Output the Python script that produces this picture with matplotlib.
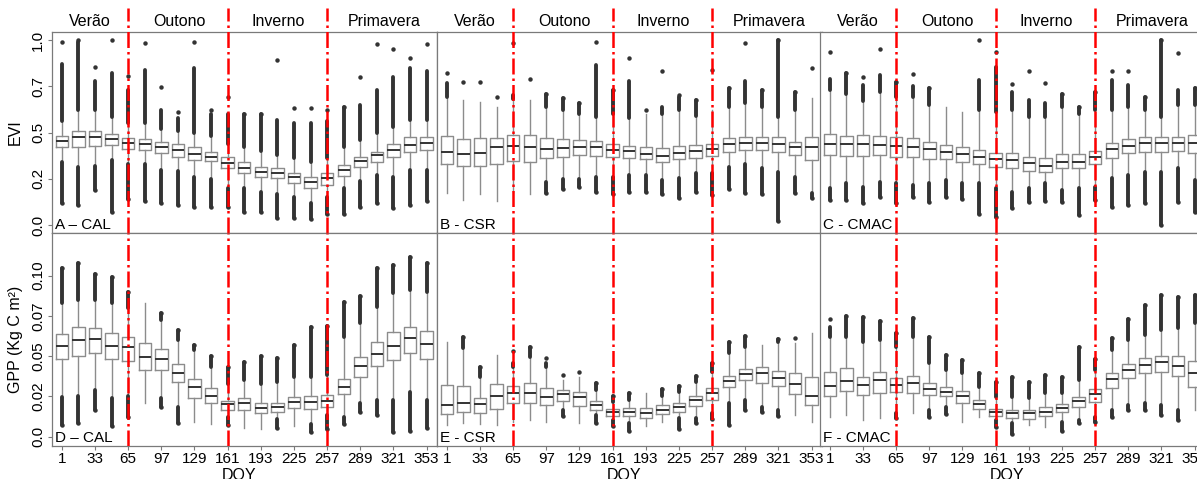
"""
EVI / GPP boxplots by DOY for three sites (CAL, CSR, CMAC)
"""
import matplotlib
matplotlib.use("Agg")
import matplotlib.pyplot as plt
from matplotlib.transforms import blended_transform_factory

plt.rcParams["font.family"] = ["Liberation Sans", "DejaVu Sans"]

# ---- data ----
doy = [1, 17, 33, 49, 65, 81, 97, 113, 129, 145, 161, 177, 193, 209, 225, 241, 257, 273, 289, 305, 321, 337, 353]
doy_labels = [1, 33, 65, 97, 129, 161, 193, 225, 257, 289, 321, 353]
season_names = ["Verão", "Outono", "Inverno", "Primavera"]
season_centers = [28, 114, 210, 312]
season_breaks = [65, 161, 257]

# A - CAL (EVI)
A_q1 = [0.423, 0.423, 0.429, 0.432, 0.411, 0.405, 0.387, 0.369, 0.351, 0.348, 0.306, 0.279, 0.261, 0.252, 0.229, 0.198, 0.216, 0.265, 0.312, 0.342, 0.369, 0.396, 0.405]
A_med = [0.456, 0.477, 0.477, 0.463, 0.441, 0.438, 0.423, 0.405, 0.384, 0.369, 0.337, 0.310, 0.288, 0.279, 0.258, 0.234, 0.252, 0.297, 0.348, 0.378, 0.405, 0.432, 0.441]
A_q3 = [0.481, 0.508, 0.508, 0.490, 0.472, 0.463, 0.450, 0.438, 0.423, 0.396, 0.369, 0.339, 0.315, 0.306, 0.279, 0.261, 0.279, 0.324, 0.369, 0.396, 0.438, 0.474, 0.474]
A_wlo = [0.34, 0.315, 0.32, 0.35, 0.33, 0.33, 0.30, 0.29, 0.26, 0.25, 0.20, 0.20, 0.18, 0.17, 0.15, 0.12, 0.15, 0.20, 0.24, 0.27, 0.26, 0.30, 0.30]
A_whi = [0.56, 0.62, 0.62, 0.585, 0.55, 0.55, 0.52, 0.51, 0.50, 0.48, 0.44, 0.42, 0.40, 0.38, 0.36, 0.34, 0.36, 0.42, 0.46, 0.50, 0.53, 0.57, 0.57]
A_lo = [0.12, 0.11, 0.19, 0.07, 0.14, 0.13, 0.12, 0.11, 0.10, 0.10, 0.10, 0.07, 0.07, 0.04, 0.04, 0.03, 0.06, 0.06, 0.10, 0.12, 0.09, 0.11, 0.13]
A_hi = [0.87, 0.99, 0.78, 0.82, 0.73, 0.84, 0.62, 0.58, 0.85, 0.60, 0.60, 0.60, 0.60, 0.57, 0.55, 0.55, 0.56, 0.64, 0.65, 0.73, 0.80, 0.85, 0.83]
A_max = [0.99, 1.0, 0.855, 1.0, 0.805, 0.985, 0.745, 0.61, 0.99, 0.62, 0.69, 0.60, 0.60, 0.89, 0.63, 0.63, 0.62, 0.64, 0.80, 0.98, 0.95, 0.90, 0.98]

# B - CSR (EVI)
B_q1 = [0.328, 0.319, 0.319, 0.330, 0.348, 0.342, 0.360, 0.366, 0.378, 0.373, 0.366, 0.360, 0.357, 0.342, 0.357, 0.360, 0.375, 0.396, 0.405, 0.405, 0.393, 0.378, 0.351]
B_med = [0.396, 0.384, 0.387, 0.420, 0.429, 0.420, 0.409, 0.418, 0.423, 0.423, 0.405, 0.400, 0.384, 0.375, 0.391, 0.400, 0.409, 0.436, 0.445, 0.441, 0.438, 0.423, 0.420]
B_q3 = [0.481, 0.463, 0.468, 0.472, 0.486, 0.486, 0.472, 0.463, 0.459, 0.454, 0.438, 0.429, 0.420, 0.414, 0.429, 0.432, 0.438, 0.468, 0.477, 0.474, 0.477, 0.450, 0.477]
B_wlo = [0.175, 0.135, 0.166, 0.13, 0.18, 0.168, 0.234, 0.25, 0.25, 0.26, 0.26, 0.27, 0.27, 0.243, 0.255, 0.28, 0.28, 0.315, 0.33, 0.31, 0.288, 0.26, 0.175]
B_whi = [0.69, 0.675, 0.667, 0.64, 0.68, 0.675, 0.64, 0.62, 0.60, 0.585, 0.60, 0.577, 0.60, 0.60, 0.62, 0.59, 0.62, 0.64, 0.66, 0.64, 0.585, 0.62, 0.685]
B_lo = [0.175, 0.135, 0.166, 0.13, 0.18, 0.168, 0.171, 0.193, 0.205, 0.18, 0.17, 0.18, 0.18, 0.166, 0.144, 0.18, 0.162, 0.193, 0.171, 0.166, 0.02, 0.175, 0.144]
B_hi = [0.77, 0.675, 0.667, 0.64, 0.70, 0.675, 0.71, 0.685, 0.66, 0.865, 0.73, 0.78, 0.60, 0.64, 0.69, 0.675, 0.62, 0.74, 0.78, 0.73, 1.0, 0.72, 0.685]
B_max = [0.82, 0.775, 0.775, 0.69, 0.985, 0.79, 0.71, 0.685, 0.66, 0.99, 0.73, 0.90, 0.62, 0.83, 0.70, 0.675, 0.84, 0.74, 0.985, 0.73, 1.0, 0.72, 0.847]

# C - CMAC (EVI)
C_q1 = [0.378, 0.375, 0.375, 0.378, 0.369, 0.366, 0.357, 0.357, 0.342, 0.330, 0.315, 0.306, 0.294, 0.285, 0.306, 0.306, 0.328, 0.360, 0.387, 0.396, 0.393, 0.402, 0.387]
C_med = [0.438, 0.436, 0.438, 0.432, 0.429, 0.420, 0.409, 0.393, 0.384, 0.369, 0.355, 0.351, 0.333, 0.321, 0.342, 0.342, 0.369, 0.409, 0.427, 0.441, 0.445, 0.445, 0.441]
C_q3 = [0.490, 0.481, 0.486, 0.483, 0.474, 0.468, 0.450, 0.432, 0.423, 0.405, 0.391, 0.387, 0.366, 0.364, 0.384, 0.384, 0.402, 0.441, 0.463, 0.474, 0.477, 0.477, 0.486]
C_wlo = [0.198, 0.225, 0.207, 0.234, 0.225, 0.216, 0.225, 0.243, 0.229, 0.225, 0.198, 0.18, 0.198, 0.225, 0.189, 0.198, 0.207, 0.252, 0.27, 0.288, 0.288, 0.306, 0.243]
C_whi = [0.73, 0.71, 0.67, 0.72, 0.69, 0.69, 0.65, 0.64, 0.613, 0.62, 0.61, 0.62, 0.585, 0.585, 0.64, 0.60, 0.62, 0.62, 0.64, 0.62, 0.585, 0.65, 0.65]
C_lo = [0.135, 0.135, 0.12, 0.153, 0.117, 0.153, 0.126, 0.153, 0.139, 0.058, 0.045, 0.09, 0.126, 0.13, 0.126, 0.054, 0.135, 0.10, 0.108, 0.117, 0.0, 0.126, 0.072]
C_hi = [0.79, 0.82, 0.757, 0.81, 0.775, 0.75, 0.74, 0.64, 0.613, 0.784, 0.856, 0.72, 0.675, 0.66, 0.71, 0.64, 0.72, 0.784, 0.757, 0.694, 1.0, 0.73, 0.74]
C_max = [0.933, 0.82, 0.80, 0.95, 0.775, 0.816, 0.74, 0.64, 0.613, 1.0, 0.937, 0.76, 0.83, 0.766, 0.71, 0.64, 0.72, 0.83, 0.83, 0.694, 1.0, 0.928, 0.74]

# D - CAL (GPP)
D_q1 = [0.0482, 0.0503, 0.0522, 0.0482, 0.0472, 0.0414, 0.0414, 0.0342, 0.0238, 0.0207, 0.0166, 0.0166, 0.0145, 0.0151, 0.0176, 0.0172, 0.0186, 0.0263, 0.0373, 0.0441, 0.0476, 0.0522, 0.0482]
D_med = [0.0561, 0.0600, 0.0607, 0.0565, 0.0555, 0.0497, 0.0480, 0.0393, 0.0306, 0.0255, 0.0201, 0.0211, 0.0176, 0.0186, 0.0213, 0.0213, 0.0224, 0.0310, 0.0439, 0.0513, 0.0565, 0.0611, 0.0576]
D_q3 = [0.0636, 0.0679, 0.0677, 0.0646, 0.0621, 0.0584, 0.0542, 0.0449, 0.0356, 0.0300, 0.0222, 0.0242, 0.0207, 0.0211, 0.0248, 0.0253, 0.0259, 0.0356, 0.0493, 0.0590, 0.0648, 0.0683, 0.0658]
D_wlo = [0.0248, 0.0255, 0.029, 0.024, 0.025, 0.0207, 0.0240, 0.0186, 0.0093, 0.0079, 0.0124, 0.0052, 0.005, 0.011, 0.0066, 0.008, 0.0135, 0.0124, 0.0207, 0.0228, 0.0228, 0.028, 0.0228]
D_whi = [0.083, 0.085, 0.085, 0.083, 0.080, 0.0832, 0.0725, 0.060, 0.0538, 0.0435, 0.033, 0.0352, 0.033, 0.034, 0.037, 0.037, 0.038, 0.062, 0.0704, 0.0807, 0.089, 0.091, 0.090]
D_lo = [0.0072, 0.0083, 0.0165, 0.0068, 0.0124, 0.0207, 0.0186, 0.0087, 0.0093, 0.0079, 0.0072, 0.0052, 0.005, 0.0052, 0.0066, 0.0027, 0.0048, 0.0077, 0.0155, 0.0135, 0.0031, 0.0035, 0.0052]
D_hi = [0.1046, 0.108, 0.1008, 0.099, 0.090, 0.0832, 0.077, 0.066, 0.057, 0.050, 0.0435, 0.0466, 0.050, 0.049, 0.057, 0.068, 0.069, 0.0839, 0.0876, 0.105, 0.1066, 0.1118, 0.1077]
D_max = [0.1046, 0.108, 0.1008, 0.099, 0.090, 0.0832, 0.077, 0.066, 0.057, 0.050, 0.0435, 0.0466, 0.050, 0.049, 0.057, 0.068, 0.069, 0.0839, 0.0876, 0.105, 0.1066, 0.1118, 0.1077]

# E - CSR (GPP)
E_q1 = [0.0141, 0.0151, 0.0145, 0.0172, 0.0207, 0.0207, 0.0197, 0.0224, 0.0190, 0.0166, 0.0130, 0.0130, 0.0118, 0.0141, 0.0155, 0.0193, 0.0228, 0.0306, 0.0352, 0.0335, 0.0315, 0.0263, 0.0197]
E_med = [0.0197, 0.0211, 0.0201, 0.0255, 0.0273, 0.0269, 0.0248, 0.0263, 0.0248, 0.0197, 0.0151, 0.0155, 0.0149, 0.0166, 0.0186, 0.0228, 0.0269, 0.0348, 0.0389, 0.0398, 0.0366, 0.0327, 0.0255]
E_q3 = [0.0321, 0.0315, 0.0242, 0.0325, 0.0317, 0.0335, 0.0304, 0.0290, 0.0280, 0.0222, 0.0172, 0.0176, 0.0176, 0.0197, 0.0207, 0.0255, 0.0304, 0.0379, 0.0418, 0.0435, 0.0410, 0.0393, 0.0373]
E_wlo = [0.0072, 0.0083, 0.0079, 0.0072, 0.0093, 0.0104, 0.0093, 0.0166, 0.0087, 0.0135, 0.0104, 0.0083, 0.0066, 0.0093, 0.0114, 0.0114, 0.0145, 0.0207, 0.0228, 0.0186, 0.0166, 0.0135, 0.0093]
E_whi = [0.059, 0.0549, 0.0373, 0.0507, 0.0435, 0.0497, 0.0435, 0.0352, 0.0373, 0.0290, 0.0217, 0.0228, 0.0273, 0.0250, 0.0280, 0.0342, 0.0404, 0.0518, 0.0559, 0.0569, 0.0590, 0.0580, 0.0642]
E_lo = [0.0072, 0.0083, 0.0079, 0.0072, 0.0093, 0.0104, 0.0093, 0.0128, 0.0087, 0.0087, 0.0066, 0.0035, 0.0066, 0.0093, 0.0048, 0.0087, 0.011, 0.0072, 0.0166, 0.0155, 0.0130, 0.0135, 0.0093]
E_hi = [0.059, 0.0617, 0.043, 0.0507, 0.046, 0.0559, 0.046, 0.0352, 0.0373, 0.0335, 0.0255, 0.0269, 0.0273, 0.0294, 0.0315, 0.0377, 0.0455, 0.059, 0.0625, 0.0569, 0.0605, 0.058, 0.0642]
E_max = [0.059, 0.0617, 0.043, 0.0507, 0.0534, 0.0559, 0.0487, 0.0383, 0.0404, 0.0335, 0.0255, 0.0269, 0.0273, 0.0294, 0.0315, 0.0377, 0.0455, 0.059, 0.0625, 0.0569, 0.0605, 0.061, 0.0642]

# F - CMAC (GPP)
F_q1 = [0.0253, 0.0284, 0.0259, 0.0269, 0.0280, 0.0273, 0.0259, 0.0253, 0.0207, 0.0172, 0.0130, 0.0118, 0.0110, 0.0130, 0.0151, 0.0186, 0.0217, 0.0300, 0.0366, 0.0393, 0.0404, 0.0379, 0.0306]
F_med = [0.0315, 0.0348, 0.0321, 0.0352, 0.0321, 0.0335, 0.0294, 0.0280, 0.0253, 0.0203, 0.0151, 0.0145, 0.0145, 0.0155, 0.0180, 0.0222, 0.0263, 0.0358, 0.0414, 0.0445, 0.0462, 0.0441, 0.0393]
F_q3 = [0.0400, 0.0424, 0.0369, 0.0404, 0.0366, 0.0379, 0.0335, 0.0311, 0.0286, 0.0228, 0.0170, 0.0166, 0.0166, 0.0186, 0.0203, 0.0248, 0.0294, 0.0393, 0.0449, 0.0487, 0.0503, 0.0503, 0.0470]
F_wlo = [0.0124, 0.0135, 0.0104, 0.0114, 0.0145, 0.0145, 0.0166, 0.0186, 0.0093, 0.0124, 0.0104, 0.0083, 0.0072, 0.0062, 0.0093, 0.0104, 0.0124, 0.0166, 0.0197, 0.0207, 0.0197, 0.0166, 0.0166]
F_whi = [0.062, 0.062, 0.059, 0.060, 0.0559, 0.062, 0.0455, 0.0414, 0.0397, 0.0311, 0.0248, 0.0248, 0.0238, 0.0269, 0.0269, 0.0352, 0.0414, 0.0538, 0.0600, 0.0631, 0.0662, 0.0673, 0.0704]
F_lo = [0.0124, 0.0135, 0.0104, 0.0114, 0.0114, 0.0145, 0.0124, 0.0141, 0.0093, 0.0124, 0.0062, 0.0017, 0.0072, 0.0062, 0.0035, 0.0083, 0.0089, 0.0124, 0.0166, 0.0166, 0.0135, 0.0104, 0.0166]
F_hi = [0.0683, 0.075, 0.0741, 0.072, 0.0646, 0.0735, 0.0621, 0.0507, 0.0476, 0.0398, 0.0342, 0.0373, 0.0342, 0.0383, 0.0369, 0.0559, 0.048, 0.0611, 0.0729, 0.0818, 0.088, 0.087, 0.088]
F_max = [0.0729, 0.075, 0.0741, 0.072, 0.0646, 0.0735, 0.0621, 0.0507, 0.0476, 0.0398, 0.0342, 0.0373, 0.0342, 0.0383, 0.0369, 0.0559, 0.048, 0.0611, 0.0729, 0.0818, 0.088, 0.087, 0.088]

evi_ticks = [0, 0.25, 0.5, 0.75, 1.0]
evi_ticklabels = ["0.0", "0.2", "0.5", "0.7", "1.0"]
gpp_ticks = [0, 0.025, 0.05, 0.075, 0.1]
gpp_ticklabels = ["0.0", "0.02", "0.05", "0.07", "0.10"]

BOX_C = "#8c8c8c"
DARK = "#333333"
W, H = 1197, 479


def draw_panel(ax, q1, med, q3, wlo, whi, lo, hi, mx, label):
    stats = [dict(med=m, q1=a, q3=b, whislo=l, whishi=h, fliers=[])
             for a, m, b, l, h in zip(q1, med, q3, wlo, whi)]
    ax.bxp(stats, positions=doy, widths=12, showcaps=False, showfliers=False,
           boxprops=dict(color=BOX_C, linewidth=1.0),
           whiskerprops=dict(color=BOX_C, linewidth=1.0),
           medianprops=dict(color=DARK, linewidth=1.4),
           manage_ticks=False)
    # dense outlier columns
    for x, w_hi, o_hi, o_max, w_lo, o_lo in zip(doy, whi, hi, mx, wlo, lo):
        if o_hi > w_hi:
            ax.plot([x, x], [w_hi, o_hi], color=DARK, lw=2.8, solid_capstyle="round", zorder=3)
        if o_max > w_hi:
            ax.plot(x, o_max, "o", color=DARK, ms=3.2, mew=0, zorder=3)
        if o_lo < w_lo:
            ax.plot([x, x], [o_lo, w_lo], color=DARK, lw=2.8, solid_capstyle="round", zorder=3)
            ax.plot(x, o_lo, "o", color=DARK, ms=3.2, mew=0, zorder=3)
    ax.set_xlim(-8.5, 363)
    ax.text(0.008, 0.005, label, transform=ax.transAxes, fontsize=11, ha="left", va="bottom")
    for s in ax.spines.values():
        s.set_color("#7a7a7a")
        s.set_linewidth(0.9)


fig = plt.figure(figsize=(W / 100, H / 100), dpi=100)
cols = [52, 437, 820]
pw = 385
top_rows = (32, 233)
bot_rows = (233, 446)


def add(x0, rows):
    y0, y1 = rows
    return fig.add_axes([x0 / W, 1 - y1 / H, pw / W, (y1 - y0) / H])


panels_top = [
    (A_q1, A_med, A_q3, A_wlo, A_whi, A_lo, A_hi, A_max, "A – CAL"),
    (B_q1, B_med, B_q3, B_wlo, B_whi, B_lo, B_hi, B_max, "B - CSR"),
    (C_q1, C_med, C_q3, C_wlo, C_whi, C_lo, C_hi, C_max, "C - CMAC"),
]
panels_bot = [
    (D_q1, D_med, D_q3, D_wlo, D_whi, D_lo, D_hi, D_max, "D – CAL"),
    (E_q1, E_med, E_q3, E_wlo, E_whi, E_lo, E_hi, E_max, "E - CSR"),
    (F_q1, F_med, F_q3, F_wlo, F_whi, F_lo, F_hi, F_max, "F - CMAC"),
]

for i, x0 in enumerate(cols):
    # ---- EVI row ----
    ax = add(x0, top_rows)
    draw_panel(ax, *panels_top[i])
    ax.set_ylim(-0.043, 1.043)
    ax.set_xticks([])
    for b in season_breaks:
        ax.axvline(b, ymin=0, ymax=1.12, color="red", ls="-.", lw=1.8, clip_on=False, zorder=4)
    tr = blended_transform_factory(ax.transData, ax.transAxes)
    for name, cx in zip(season_names, season_centers):
        ax.text(cx, 1.05, name, transform=tr, ha="center", va="center", fontsize=11.5)
    if i == 0:
        ax.set_yticks(evi_ticks)
        ax.set_yticklabels(evi_ticklabels, rotation=90, va="center", fontsize=11)
        ax.tick_params(axis="y", length=3, color="#7a7a7a", pad=2)
        ax.set_ylabel("EVI", fontsize=11.5, labelpad=6)
    else:
        ax.set_yticks([])

    # ---- GPP row ----
    ax = add(x0, bot_rows)
    draw_panel(ax, *panels_bot[i])
    ax.set_ylim(-0.0058, 0.1265)
    for b in season_breaks:
        ax.axvline(b, color="red", ls="-.", lw=1.8, zorder=4)
    ax.set_xticks(doy_labels)
    ax.set_xticklabels([str(d) for d in doy_labels], fontsize=11)
    ax.tick_params(axis="x", length=3, color="#7a7a7a", pad=1)
    if i == 0:
        ax.set_yticks(gpp_ticks)
        ax.set_yticklabels(gpp_ticklabels, rotation=90, va="center", fontsize=11)
        ax.tick_params(axis="y", length=3, color="#7a7a7a", pad=2)
        ax.set_ylabel("GPP (Kg C m²)", fontsize=11.5, labelpad=6)
    else:
        ax.set_yticks([])
    fig.text((x0 + pw / 2 - 5) / W, 1 - 475 / H, "DOY", ha="center", va="center", fontsize=11.5)

fig.savefig("out.png", dpi=100, facecolor="white")
